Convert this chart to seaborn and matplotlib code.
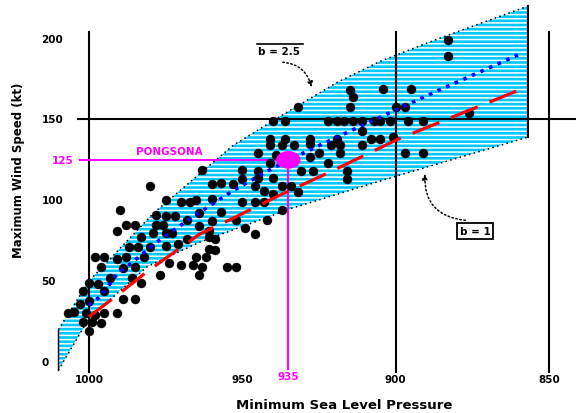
import matplotlib
matplotlib.use("Agg")
import matplotlib.pyplot as plt
from matplotlib.patches import Ellipse
import seaborn as sns
import pandas as pd

# storm observations: minimum sea level pressure (hPa) / maximum wind (kt)
storm_pressure = [
    932, 940, 936, 922, 919, 941, 936, 928, 919,
    883, 883, 904, 895, 915, 914, 915, 900, 897,
    917, 914, 911, 907, 905, 902, 896, 891,
    911, 908, 905, 901, 911, 897, 891, 876,
    941, 937, 933, 928, 921, 918,
    945, 939, 925, 918, 928, 941, 922,
    950, 945, 931, 927, 916, 916, 950, 945, 940,
    953, 946, 937, 934, 932, 943, 940,
    950, 946, 943, 937, 942, 952, 949, 946,
    963, 980, 960, 957, 975, 970, 967, 965, 960,
    990, 978, 975, 972, 964, 957,
    988, 985, 978, 976, 968, 964, 960,
    991, 979, 975, 973, 961,
    983, 968, 987, 984, 980, 975, 971,
    998, 995, 991, 988, 982, 974, 970, 966,
    996, 989, 985, 977, 993, 986, 983, 1000, 997,
    1002, 995, 989, 985, 1000, 1003, 1005, 1007, 1001,
    998, 995, 991, 1002, 999, 996, 1000,
    961, 959, 961, 959, 962, 965, 963, 955, 952, 964,
]
storm_wind = [
    158, 149, 149, 149, 149, 138, 138, 138, 138,
    199, 189, 169, 169, 168, 164, 158, 158, 158,
    149, 149, 149, 149, 149, 149, 149, 149,
    143, 138, 138, 139, 134, 129, 129, 154,
    134, 134, 134, 135, 134, 134,
    129, 128, 129, 129, 127, 123, 123,
    119, 118, 118, 118, 118, 113, 113, 114, 114,
    110, 109, 109, 109, 105, 106, 104,
    99, 99, 99, 94, 88, 88, 83, 79,
    119, 109, 110, 111, 100, 99, 99, 100, 101,
    94, 91, 90, 90, 92, 93,
    85, 85, 85, 85, 88, 84, 87,
    81, 80, 80, 80, 81,
    77, 76, 71, 71, 71, 72, 73,
    65, 65, 64, 65, 65, 61, 60, 60,
    59, 58, 59, 54, 52, 52, 49, 49, 48,
    44, 44, 39, 39, 38, 36, 31, 30, 30,
    29, 30, 30, 25, 25, 24, 19,
    77, 76, 70, 69, 65, 65, 59, 59, 59, 54,
]

# wind-pressure curves
b25_pressure = [1000, 996, 991, 985, 978, 966, 953, 940, 926, 901, 886, 860]
b25_wind = [35, 41, 54, 63, 74, 90, 106, 120, 133, 155, 168, 190]
b1_pressure = [1000, 991, 981, 964, 954, 938, 922, 899, 860]
b1_wind = [28, 41, 56, 79, 88, 103, 117, 138, 168]

# envelope of the shaded band
band_upper_p = [1010, 1003, 1000, 979, 953, 935, 919, 905, 886, 857]
band_upper_v = [20, 41, 50, 92, 134, 155, 173, 186, 200, 220]
band_lower_p = [1010, 1000, 981, 964, 954, 934, 905, 857]
band_lower_v = [-5, 27, 59, 74, 81, 95, 112, 139]

pongsona_p = 935
pongsona_v = 125

x_ticks = [1000, 950, 900, 850]
y_ticks = [0, 50, 100, 150, 200]

obs = pd.DataFrame({"pressure": storm_pressure, "wind": storm_wind})

MAG = "#ff00ff"
CYAN = "#00c8ff"
plt.rcParams["hatch.linewidth"] = 1.1

fig = plt.figure(figsize=(5.76, 4.14), dpi=100)
ax = fig.add_axes([0, 0, 1, 1])
ax.set_xlim(1029.02, 841.21)
ax.set_ylim(-31.54, 224.49)
ax.axis("off")

# shaded band
poly_x = band_upper_p + band_lower_p[::-1]
poly_y = band_upper_v + band_lower_v[::-1]
ax.fill(poly_x, poly_y, facecolor=CYAN, edgecolor="white", hatch="----",
        linewidth=0, zorder=1)
dot_ls = (0, (1, 2.2))
sns.lineplot(x=band_upper_p, y=band_upper_v, sort=False, color="black",
             lw=1.1, linestyle=dot_ls, ax=ax, zorder=2)
sns.lineplot(x=band_lower_p, y=band_lower_v, sort=False, color="black",
             lw=1.1, linestyle=dot_ls, ax=ax, zorder=2)
ax.plot([band_upper_p[0], band_lower_p[0]], [band_upper_v[0], band_lower_v[0]],
        color="black", lw=1, zorder=2)
ax.plot([band_upper_p[-1], band_lower_p[-1]], [band_upper_v[-1], band_lower_v[-1]],
        color="black", lw=1.5, zorder=2)

# reference grid lines
for xv in x_ticks[:1] + x_ticks[2:]:
    ax.plot([xv, xv], [-6, 204], color="black", lw=1.5, zorder=3)
ax.plot([1003.6, 841], [150, 150], color="black", lw=1.5, zorder=3)

# observations
sns.scatterplot(data=obs, x="pressure", y="wind", color="black", s=42,
                edgecolor="black", linewidth=0.3, ax=ax, zorder=4, legend=False)

# curves
sns.lineplot(x=b25_pressure, y=b25_wind, sort=False, color="#0000ff", lw=2.6,
             linestyle=(0, (1, 1.6)), ax=ax, zorder=5)
sns.lineplot(x=b1_pressure, y=b1_wind, sort=False, color="#ff0000", lw=2.3,
             linestyle=(0, (9, 4)), ax=ax, zorder=5)

# Pongsona
ax.plot([1002.9, pongsona_p], [pongsona_v, pongsona_v], color=MAG, lw=1.5, zorder=3)
ax.plot([pongsona_p, pongsona_p], [pongsona_v, -4.5], color=MAG, lw=1.5, zorder=3)
ax.add_patch(Ellipse((pongsona_p, pongsona_v), 7.5, 10, color=MAG, zorder=6))
bold = dict(fontfamily="DejaVu Sans", fontweight="bold")
ax.text(973.9, 130.5, "PONGSONA", color=MAG, fontsize=7.5, ha="center",
        va="center", **bold)
ax.text(1008.5, pongsona_v, str(pongsona_v), color=MAG, fontsize=7.5,
        ha="center", va="center", **bold)
ax.text(pongsona_p, -8.7, str(pongsona_p), color=MAG, fontsize=7.5,
        ha="center", va="center", **bold)

# tick labels
for xv in x_ticks:
    ax.text(xv, -10.5, str(xv), fontsize=7.5, ha="center", va="center", **bold)
for yv in y_ticks:
    ax.text(1015.5, yv, str(yv), fontsize=7.5, ha="left", va="center", **bold)

ax.text(1023.1, 119.4, "Maximum Wind Speed (kt)", rotation=90, fontsize=8.5,
        ha="center", va="center", **bold)
ax.text(916.9, -26, "Minimum Sea Level Pressure", fontsize=9.5,
        ha="center", va="center", **bold)

# b annotations
ax.text(938.0, 192.3, "b = 2.5", fontsize=7.5, ha="center", va="center", **bold)
ax.plot([945.2, 930.2], [196.9, 196.9], color="black", lw=1.2)
ax.annotate("", xy=(927.3, 168.2), xytext=(937.7, 185.5),
            arrowprops=dict(arrowstyle="-|>", linestyle=":", color="black",
                            lw=1.1, mutation_scale=8,
                            connectionstyle="arc3,rad=-0.4"))
ax.text(874.1, 81, "b = 1", fontsize=7.5, ha="center", va="center",
        bbox=dict(boxstyle="square,pad=0.25", fc="white", ec="black", lw=1.3),
        **bold)
ax.annotate("", xy=(890.4, 118.1), xytext=(876.4, 87.5),
            arrowprops=dict(arrowstyle="-|>", linestyle=":", color="black",
                            lw=1.1, mutation_scale=8,
                            connectionstyle="arc3,rad=-0.5"))

fig.savefig("out.png", dpi=100)
